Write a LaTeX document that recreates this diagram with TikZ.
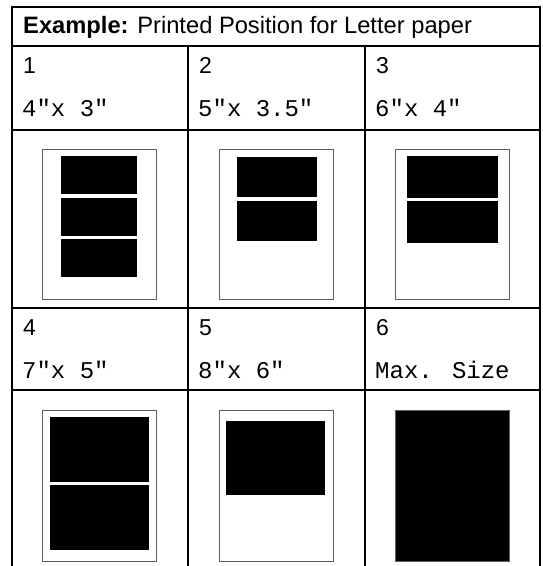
\documentclass[tikz,border=0pt]{standalone}
\usepackage{fontspec}
\setmainfont{Liberation Sans}
\newfontfamily\courierfont{Liberation Mono}
\usepackage{tikz}
\usetikzlibrary{positioning}

\begin{document}
\begin{tikzpicture}[
  x=1pt,y=-1pt,
  grid/.style={draw, line width=2pt},
  label/.style={anchor=base west, inner sep=0pt, font=\fontsize{23}{27}\selectfont},
  size/.style={anchor=base west, inner sep=0pt, font=\courierfont\fontsize{24}{28}\selectfont},
  paper/.style={draw=gray!75!black, fill=white, line width=1pt},
  photo/.style={fill=black}
]
\useasboundingbox (0,0) rectangle (542,566);
% table rules
\draw[grid] (12,566) -- (12,7) -- (540,7) -- (540,566);
\draw[grid] (12,46) -- (540,46); \draw[grid] (12,130) -- (540,130);
\draw[grid] (12,308) -- (540,308); \draw[grid] (12,390) -- (540,390);
\draw[grid] (188,46) -- (188,566); \draw[grid] (365,46) -- (365,566);
% texts
\node[label, font=\fontsize{23.7}{27}\selectfont] (title) at (23,33) {\textbf{Example:} Printed Position for Letter paper};
\node[label] (num1) at (23,73) {1};
\node[label] (num2) at (199,73) {2};
\node[label] (num3) at (376,73) {3};
\node[size] (size1) at (22,116) {4"x 3"};
\node[size] (size2) at (198,116) {5"x 3.5"};
\node[size] (size3) at (375,116) {6"x 4"};
\node[label] (num4) at (23,335) {4};
\node[label] (num5) at (199,335) {5};
\node[label] (num6) at (376,335) {6};
\node[size] (size4) at (22,378) {7"x 5"};
\node[size] (size5) at (198,378) {8"x 6"};
\node[size] (size6) at (375,378) {Max. Size};
% sheets, top row
\draw[paper] (42,149) rectangle (156,299);
\fill[photo] (61,156) rectangle (137,194); \fill[photo] (61,198) rectangle (137,236); \fill[photo] (61,239) rectangle (137,277);
\draw[paper] (219,149) rectangle (333,299);
\fill[photo] (237,157) rectangle (317,197); \fill[photo] (237,201) rectangle (317,241);
\draw[paper] (395,149) rectangle (509,299);
\fill[photo] (407,156) rectangle (498,198); \fill[photo] (407,201) rectangle (498,243);
% sheets, bottom row
\draw[paper] (42,410) rectangle (156,561);
\fill[photo] (50,417) rectangle (149,482); \fill[photo] (50,485) rectangle (149,550);
\draw[paper] (219,410) rectangle (333,561);
\fill[photo] (226,421) rectangle (325,495);
\draw[paper, fill=black] (395,410) rectangle (509,561);
\end{tikzpicture}
\end{document}
